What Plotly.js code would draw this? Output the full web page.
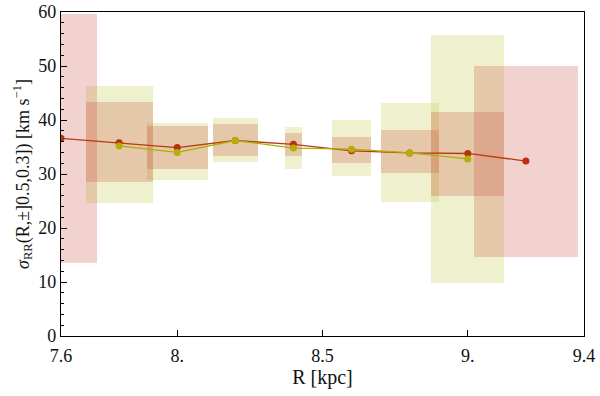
<!DOCTYPE html>
<html><head><meta charset="utf-8">
<script src="https://cdn.plot.ly/plotly-3.0.1.min.js"></script>
<style>html,body{margin:0;padding:0;background:#fff}#chart{width:600px;height:396px}</style>
</head><body><div id="chart"></div>
<script>
// Red series (points + error boxes)
const redR    = [7.6, 7.8, 8.0, 8.2, 8.4, 8.6, 8.8, 9.0, 9.2];
const redSig  = [36.6, 35.8, 34.9, 36.2, 35.5, 34.3, 33.9, 33.8, 32.4];
const redLo   = [13.6, 28.6, 30.9, 33.4, 33.4, 32.1, 30.1, 26.0, 14.7];
const redHi   = [59.6, 43.3, 38.9, 39.2, 37.6, 36.9, 38.1, 41.5, 50.0];
const redHalf = [0.124, 0.115, 0.105, 0.077, 0.03, 0.067, 0.1, 0.125, 0.18];
// Yellow-green series
const grnR    = [7.8, 8.0, 8.2, 8.4, 8.6, 8.8, 9.0];
const grnSig  = [35.2, 34.0, 36.2, 34.8, 34.6, 33.9, 32.8];
const grnLo   = [24.7, 28.8, 32.3, 31.0, 29.7, 24.8, 9.9];
const grnHi   = [46.3, 39.4, 40.3, 38.7, 40.0, 43.1, 55.8];
const grnHalf = [0.115, 0.105, 0.077, 0.03, 0.067, 0.1, 0.125];
// Ticks
const xTickVals = [7.6, 8.0, 8.5, 9.0, 9.4];
const xTickText = ['7.6', '8.', '8.5', '9.', '9.4'];
const yTickVals = [0, 10, 20, 30, 40, 50, 60];

const boxTrace = (R, lo, hi, half, color) => ({
  type: 'bar', x: R, base: lo, y: hi.map((h, i) => h - lo[i]),
  width: half.map(h => 2 * h),
  marker: {color: color, line: {width: 0}},
  hoverinfo: 'skip', showlegend: false
});

const data = [
  boxTrace(grnR, grnLo, grnHi, grnHalf, 'rgba(195,198,75,0.27)'),
  boxTrace(redR, redLo, redHi, redHalf, 'rgba(200,75,60,0.25)'),
  {type: 'scatter', mode: 'lines+markers', x: redR, y: redSig,
   line: {color: '#b83a12', width: 1.3}, marker: {color: '#b8300e', size: 7},
   showlegend: false},
  {type: 'scatter', mode: 'lines+markers', x: grnR, y: grnSig,
   line: {color: '#b0ad00', width: 1.3}, marker: {color: '#b2ae0a', size: 7},
   showlegend: false}
];

const fontSerif = "'Liberation Serif', 'Times New Roman', serif";
const layout = {
  width: 600, height: 396,
  margin: {l: 61, r: 16, t: 12, b: 60},
  paper_bgcolor: '#fff', plot_bgcolor: '#fff',
  barmode: 'overlay', bargap: 0,
  font: {family: fontSerif, size: 19, color: '#111'},
  xaxis: {
    range: [7.6, 9.4], tickvals: xTickVals, ticktext: xTickText,
    ticks: 'inside', ticklen: 6, tickcolor: '#000', tickwidth: 1,
    ticklabelstandoff: 3,
    showline: true, linecolor: '#000', linewidth: 1.2, mirror: true,
    showgrid: false, zeroline: false,
    tickfont: {family: fontSerif, size: 18},
    title: {text: 'R [kpc]', font: {family: fontSerif, size: 20}, standoff: 5}
  },
  yaxis: {
    range: [0, 60], tickvals: yTickVals,
    ticks: 'inside', ticklen: 6, tickcolor: '#000', tickwidth: 1,
    minor: {dtick: 2, ticks: 'inside', ticklen: 3, tickcolor: '#000', showgrid: false},
    showline: true, linecolor: '#000', linewidth: 1.2, mirror: true,
    showgrid: false, zeroline: false,
    tickfont: {family: fontSerif, size: 18},
    title: {text: '<i>σ</i><sub>RR</sub>(R,±]0.5,0.3]) [km s<sup>−1</sup>]',
            font: {family: fontSerif, size: 18}, standoff: 4}
  }
};

Plotly.newPlot('chart', data, layout, {displayModeBar: false, staticPlot: true});
</script></body></html>
